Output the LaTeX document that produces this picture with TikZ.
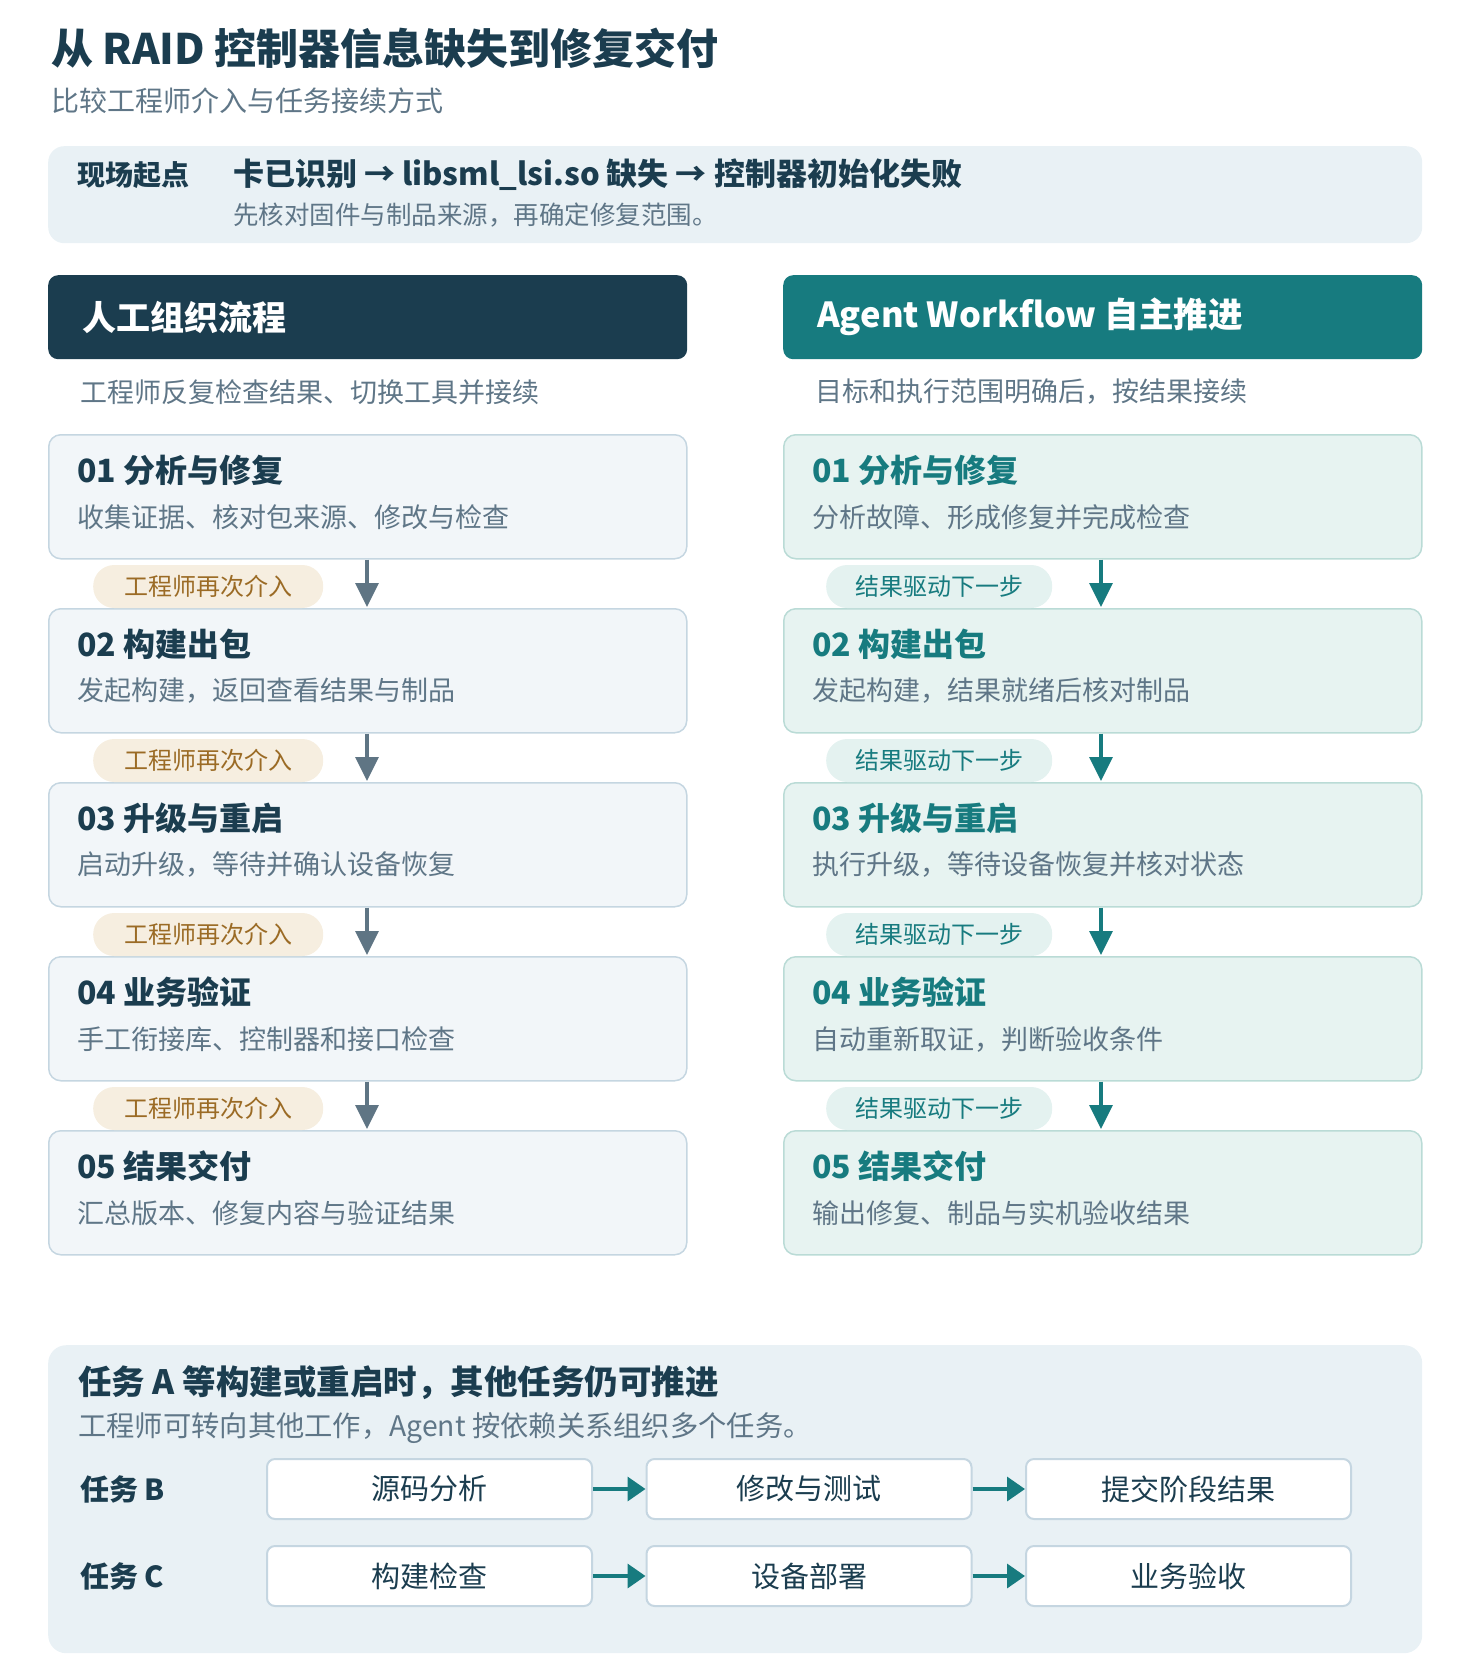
\documentclass[tikz,border=0pt]{standalone}
\usepackage{fontspec}
\setmainfont{Noto Sans CJK SC}
\usetikzlibrary{arrows.meta,positioning,calc}

\definecolor{navy}{HTML}{1B3D4F}
\definecolor{teal}{HTML}{177B7F}
\definecolor{greytext}{HTML}{5F7687}
\definecolor{panelfill}{HTML}{E9F1F5}
\definecolor{lfill}{HTML}{F2F6F9}
\definecolor{lline}{HTML}{C5D6E1}
\definecolor{rfill}{HTML}{E7F3F1}
\definecolor{rline}{HTML}{BADBD6}
\definecolor{lpillfill}{HTML}{F6EEE0}
\definecolor{lpilltext}{HTML}{9B6B25}
\definecolor{rpillfill}{HTML}{E4F2F0}
\definecolor{larrow}{HTML}{5F7584}

\newcommand{\fs}[1]{\fontsize{#1}{#1}\selectfont}

\tikzset{
  txt/.style={anchor=west, inner sep=0pt},
  headbox/.style={rounded corners=10pt, minimum width=639pt, minimum height=84pt, inner sep=0pt, anchor=north west},
  lstep/.style={draw=lline, fill=lfill, line width=1.5pt, rounded corners=12pt, minimum width=638pt, minimum height=124pt, inner sep=0pt, anchor=north west},
  rstep/.style={lstep, draw=rline, fill=rfill},
  lpill/.style={fill=lpillfill, text=lpilltext, rounded corners=21pt, minimum width=230pt, minimum height=43pt, inner sep=0pt, anchor=west, font=\fs{24}},
  rpill/.style={lpill, fill=rpillfill, text=teal, minimum width=226pt},
  taskbox/.style={draw=lline, fill=white, line width=2pt, rounded corners=8pt, minimum width=325pt, minimum height=60pt, inner sep=0pt, text=navy, font=\fs{29}},
  tasklink/.style={draw=teal, line width=3.5pt, -{Triangle[length=18pt,width=24pt]}}
}

\begin{document}
\begin{tikzpicture}[x=1pt, y=-1pt, line join=round]
\useasboundingbox (0,0) rectangle (1470,1672);

\node[txt, font=\fs{42}\bfseries, text=navy] (title) at (51,48) {从 RAID 控制器信息缺失到修复交付};
\node[txt, font=\fs{28}, text=greytext] (subtitle) at (51,101) {比较工程师介入与任务接续方式};

\node[fill=panelfill, rounded corners=16pt, minimum width=1374pt, minimum height=97pt, anchor=north west] (start) at (48,146) {};
\node[txt, font=\fs{28}\bfseries, text=navy] (startlab) at ($(start.north west)+(29,29)$) {现场起点};
\node[txt, font=\fs{31}\bfseries, text=navy] (startmain) at ($(start.north west)+(185,29)$) {卡已识别 → libsml\_lsi.so 缺失 → 控制器初始化失败};
\node[txt, font=\fs{25.5}, text=greytext] (startdesc) at ($(start.north west)+(185,69)$) {先核对固件与制品来源，再确定修复范围。};

\node[headbox, fill=navy] (lhead) at (48,275) {};
\node[headbox, fill=teal] (rhead) at (783,275) {};
\node[txt, font=\fs{34}\bfseries, text=white] at ($(lhead.west)+(34,0)$) {人工组织流程};
\node[txt, font=\fs{34.5}\bfseries, text=white] at ($(rhead.west)+(34,0)$) {Agent Workflow 自主推进};
\node[txt, font=\fs{27}, text=greytext] at ($(lhead.south west)+(32,33)$) {工程师反复检查结果、切换工具并接续};
\node[txt, font=\fs{27}, text=greytext] at ($(rhead.south west)+(32,32)$) {目标和执行范围明确后，按结果接续};

\foreach \i/\t/\ld/\rd in {
  1/分析与修复/收集证据、核对包来源、修改与检查/分析故障、形成修复并完成检查,
  2/构建出包/发起构建，返回查看结果与制品/发起构建，结果就绪后核对制品,
  3/升级与重启/启动升级，等待并确认设备恢复/执行升级，等待设备恢复并核对状态,
  4/业务验证/手工衔接库、控制器和接口检查/自动重新取证，判断验收条件,
  5/结果交付/汇总版本、修复内容与验证结果/输出修复、制品与实机验收结果}{
  \pgfmathsetmacro\y{434+174*(\i-1)}
  \node[lstep] (l\i) at (48,\y) {};
  \node[rstep] (r\i) at (783,\y) {};
  \node[txt, font=\fs{32}\bfseries, text=navy] at ($(l\i.north west)+(29,36)$) {0\i\ \t};
  \node[txt, font=\fs{32}\bfseries, text=teal] at ($(r\i.north west)+(29,36)$) {0\i\ \t};
  \node[txt, font=\fs{27}, text=greytext] at ($(l\i.north west)+(29,83)$) {\ld};
  \node[txt, font=\fs{27}, text=greytext] at ($(r\i.north west)+(29,83)$) {\rd};
}

\foreach \i in {1,...,4}{
  \pgfmathtruncatemacro\j{\i+1}
  \node[lpill] (lp\i) at ($(l\i.south west)+(45,27)$) {工程师再次介入};
  \node[rpill] (rp\i) at ($(r\i.south west)+(43,27)$) {结果驱动下一步};
  \draw[draw=larrow, line width=3.3pt, -{Triangle[length=24pt,width=23pt]}] ($(l\i.south west)+(319,0)$) -- ($(l\j.north west)+(319,-1)$);
  \draw[draw=teal, line width=3.3pt, -{Triangle[length=24pt,width=23pt]}] ($(r\i.south west)+(318,0)$) -- ($(r\j.north west)+(318,-1)$);
}

\node[fill=panelfill, rounded corners=18pt, minimum width=1374pt, minimum height=308pt, anchor=north west] (panel) at (48,1345) {};
\node[txt, font=\fs{33.5}\bfseries, text=navy] at ($(panel.north west)+(30,38)$) {任务 A 等构建或重启时，其他任务仍可推进};
\node[txt, font=\fs{28.3}, text=greytext] at ($(panel.north west)+(30,83)$) {工程师可转向其他工作，Agent 按依赖关系组织多个任务。};

\foreach \r/\yy/\a/\b/\c in {B/1489/源码分析/修改与测试/提交阶段结果, C/1576/构建检查/设备部署/业务验收}{
  \node[txt, font=\fs{29}\bfseries, text=navy] (lab\r) at (80,\yy) {任务 \r};
  \node[taskbox] (t\r1) at (429.5,\yy) {\a};
  \node[taskbox] (t\r2) at (809,\yy) {\b};
  \node[taskbox] (t\r3) at (1188.5,\yy) {\c};
  \draw[tasklink] (t\r1) -- (t\r2);
  \draw[tasklink] (t\r2) -- (t\r3);
}
\end{tikzpicture}
\end{document}
